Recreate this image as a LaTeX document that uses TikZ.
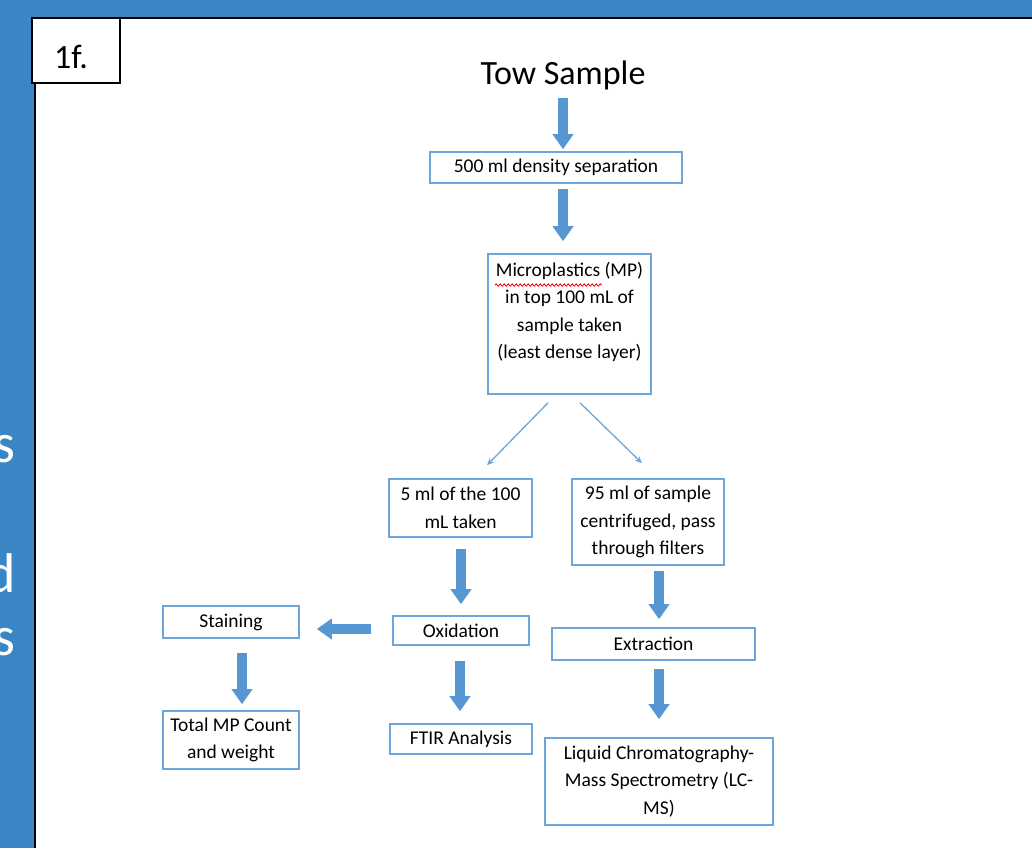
\documentclass[tikz,border=0pt]{standalone}
\usepackage{fontspec}
\setmainfont{Carlito}
\usetikzlibrary{arrows.meta,decorations.pathmorphing}
\definecolor{slideblue}{HTML}{3A86C4}
\definecolor{boxblue}{HTML}{6CA6DA}
\definecolor{arrowblue}{HTML}{5596D3}
\NewDocumentCommand{\boxfont}{}{\fontsize{19.5}{27.5}\selectfont}
\NewDocumentCommand{\bigfont}{}{\fontsize{34}{34}\selectfont}
\tikzset{/TS/S/box/.style={
	draw=boxblue, line width=1.6pt, fill=white, inner sep=0, align=center, font=\boxfont
}}
\tikzset{/TS/S/flow/.style={
	draw=arrowblue, line width=9.5pt, -{Triangle[width=20pt,length=15pt]}
}}
\tikzset{/TS/S/split/.style={
	draw=boxblue, line width=1.3pt, -{Stealth[length=7pt,width=6pt]}
}}
\tikzset{/TS/S/cut/.style={
	anchor=base east, inner sep=0, text=white, font=\fontsize{56}{56}\selectfont
}}

\begin{document}
\begin{tikzpicture}[x=1pt, y=-1pt]
				\useasboundingbox (0,0) rectangle (1032,848);
				\fill[slideblue] (0,0) rectangle (1032,848);
				\path (16,462) node[/TS/S/cut] (s1) {s};
				\path (16,592) node[/TS/S/cut] (d1) {d};
				\path (16,655) node[/TS/S/cut] (s2) {s};
				\fill[white] (35,18) rectangle (1032,848);
				\draw[line width=2pt] (35,848) -- (35,18) -- (1032,18);
				\path (76,50.5) node[draw, line width=1.5pt, fill=white, minimum width=88pt, minimum height=65pt, inner sep=0, font=\bigfont] (tag) {\raisebox{-6pt}[\height][0pt]{\kern-10pt 1f.}};
				\path (563,75) node[inner sep=0, font=\bigfont] (tow) {Tow Sample};
				\path (tow.center) ++ (-7,92.5) node[/TS/S/box, minimum width=252pt, minimum height=31pt] (sep) {500 ml density separation};
				\path (sep.center) ++ (13.5,156.5) node[/TS/S/box, minimum width=163pt, minimum height=140pt] (mp) {%
					Microplastics (MP)\\in top 100 mL of\\sample taken\\(least dense layer)\\[-8pt]\strut};
				\draw[red, line width=0.8pt, decorate, decoration={snake, amplitude=1.2pt, segment length=4pt}] (495,285) -- (602,285);
				\path (mp.center) ++ (-109,184) node[/TS/S/box, minimum width=143pt, minimum height=58pt] (five) {5 ml of the 100\\mL taken};
				\path (mp.center) ++ (78.5,198) node[/TS/S/box, minimum width=152pt, minimum height=86pt] (rest) {95 ml of sample\\centrifuged, pass\\through filters};
				\path (five.center) ++ (0.5,122.5) node[/TS/S/box, minimum width=136pt, minimum height=29pt] (oxid) {Oxidation};
				\path (oxid.center) ++ (-230,-8.5) node[/TS/S/box, minimum width=136pt, minimum height=32pt] (stain) {Staining};
				\path (stain.center) ++ (0,118) node[/TS/S/box, minimum width=136pt, minimum height=58pt] (count) {Total MP Count\\and weight};
				\path (oxid.center) ++ (0,108.5) node[/TS/S/box, minimum width=142pt, minimum height=30pt] (ftir) {FTIR Analysis};
				\path (rest.center) ++ (5.5,122) node[/TS/S/box, minimum width=203pt, minimum height=32pt] (extr) {Extraction};
				\path (extr.center) ++ (5.5,137.5) node[/TS/S/box, minimum width=228pt, minimum height=87pt] (lcms) {Liquid Chromatography-\\Mass Spectrometry (LC-\\MS)};
				\draw[/TS/S/flow] ([yshift=-8pt]tow.south) -- ([xshift=7pt,yshift=2pt]sep.north);
				\draw[/TS/S/flow] ([xshift=7pt,yshift=-5pt]sep.south) -- ([xshift=-6.5pt,yshift=12pt]mp.north);
				\draw[/TS/S/split] ([xshift=-21.5pt,yshift=-8pt]mp.south) -- ([xshift=26.5pt,yshift=13pt]five.north);
				\draw[/TS/S/split] ([xshift=10.5pt,yshift=-8pt]mp.south) -- ([xshift=-6pt,yshift=15pt]rest.north);
				\draw[/TS/S/flow] ([xshift=0.5pt,yshift=-11pt]five.south) -- ([yshift=11pt]oxid.north);
				\draw[/TS/S/flow] ([xshift=-21pt,yshift=1.5pt]oxid.west) -- ([xshift=17pt,yshift=-7pt]stain.east);
				\draw[/TS/S/flow] ([xshift=11pt,yshift=-14pt]stain.south) -- ([xshift=11pt,yshift=6pt]count.north);
				\draw[/TS/S/flow] ([xshift=-1pt,yshift=-15pt]oxid.south) -- ([xshift=-1pt,yshift=12pt]ftir.north);
				\draw[/TS/S/flow] ([xshift=11pt,yshift=-5pt]rest.south) -- ([xshift=5.5pt,yshift=8pt]extr.north);
				\draw[/TS/S/flow] ([xshift=5.5pt,yshift=-8pt]extr.south) -- ([yshift=18pt]lcms.north);
			\end{tikzpicture}
\end{document}
